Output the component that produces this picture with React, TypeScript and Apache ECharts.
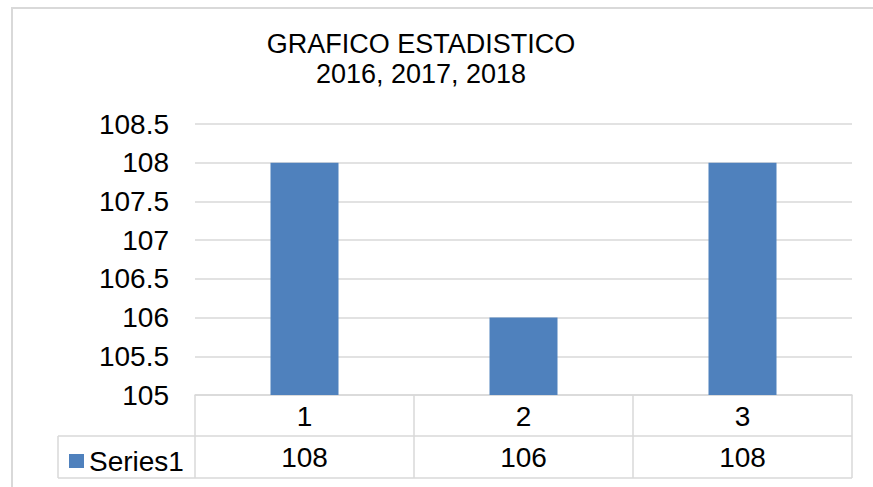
import React, { useEffect, useRef } from "react";
import * as echarts from "echarts";

const categories = ["1", "2", "3"];
const seriesName = "Series1";
const values = [108, 106, 108];
const titleLines = ["GRAFICO ESTADISTICO", "2016, 2017, 2018"];
const yMin = 105;
const yMax = 108.5;
const yStep = 0.5;

const FONT = "'Liberation Sans', Arial, sans-serif";
const GRID_COLOR = "#d9d9d9";
const BAR_COLOR = "#4f81bd";

export default function App() {
  const ref = useRef<HTMLDivElement>(null);
  useEffect(() => {
    if (!ref.current) return;
    const chart = echarts.init(ref.current, undefined, { renderer: "svg" });
    chart.setOption({
      animation: false,
      backgroundColor: "#ffffff",
      textStyle: { fontFamily: FONT },
      title: {
        text: titleLines.join("\n"),
        left: 416,
        top: 24,
        textAlign: "center",
        textStyle: {
          fontFamily: FONT,
          fontSize: 27,
          fontWeight: "normal",
          color: "#000",
          lineHeight: 30,
        },
      },
      legend: {
        left: 64,
        top: 442,
        itemWidth: 15,
        itemHeight: 14,
        itemGap: 5,
        icon: "rect",
        data: [seriesName],
        textStyle: { fontFamily: FONT, fontSize: 28, color: "#000", padding: [0, 0, 0, 0] },
      },
      grid: { left: 195, right: 21, top: 124, bottom: 92 },
      xAxis: [
        {
          type: "category",
          data: categories,
          position: "bottom",
          axisLine: { show: true, lineStyle: { color: GRID_COLOR, width: 1.5 } },
          axisTick: { show: true, interval: 0, length: 83, lineStyle: { color: GRID_COLOR, width: 1.5 } },
          axisLabel: { fontFamily: FONT, fontSize: 28, color: "#000", margin: 7, lineHeight: 28 },
        },
        {
          type: "category",
          data: values.map((v) => String(v)),
          position: "bottom",
          offset: 41,
          axisLine: { show: false },
          axisTick: { show: false },
          axisLabel: { fontFamily: FONT, fontSize: 28, color: "#000", margin: 7, lineHeight: 28 },
        },
      ],
      yAxis: {
        type: "value",
        min: yMin,
        max: yMax,
        interval: yStep,
        axisLine: { show: false },
        axisTick: { show: false },
        splitLine: { lineStyle: { color: GRID_COLOR, width: 1.5 } },
        axisLabel: { fontFamily: FONT, fontSize: 28, color: "#000", margin: 26 },
      },
      series: [
        {
          name: seriesName,
          type: "bar",
          xAxisIndex: 0,
          data: values,
          barWidth: 68,
          itemStyle: { color: BAR_COLOR },
        },
      ],
      graphic: [
        {
          type: "rect",
          shape: { x: 12, y: 8, width: 900, height: 520 },
          style: { fill: "none", stroke: GRID_COLOR, lineWidth: 2 },
          silent: true,
        },
        {
          type: "line",
          shape: { x1: 58, y1: 436, x2: 852, y2: 436 },
          style: { stroke: GRID_COLOR, lineWidth: 1.5 },
          silent: true,
        },
        {
          type: "line",
          shape: { x1: 58, y1: 478, x2: 852, y2: 478 },
          style: { stroke: GRID_COLOR, lineWidth: 1.5 },
          silent: true,
        },
        {
          type: "line",
          shape: { x1: 58, y1: 436, x2: 58, y2: 478 },
          style: { stroke: GRID_COLOR, lineWidth: 1.5 },
          silent: true,
        },
      ],
    });
    return () => chart.dispose();
  }, []);
  return (
    <div
      ref={ref}
      style={{ position: "fixed", left: 0, top: 0, width: 873, height: 487 }}
    />
  );
}
